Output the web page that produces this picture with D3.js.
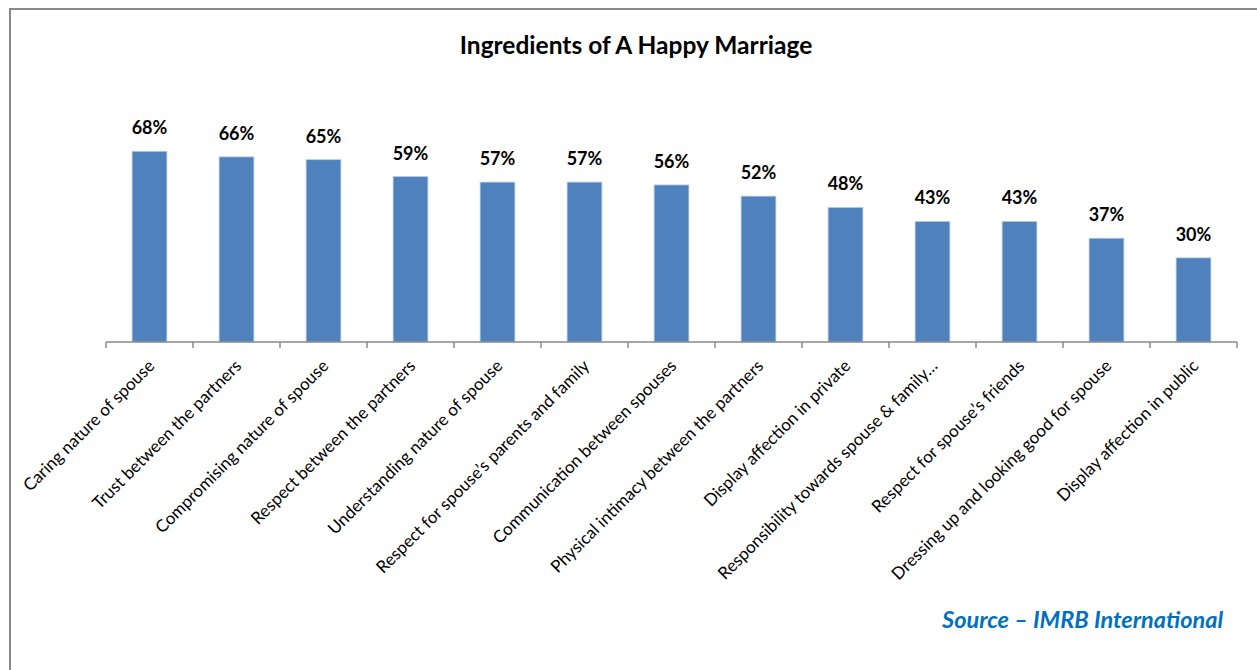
<!DOCTYPE html>
<html>
<head>
<meta charset="utf-8">
<script src="https://cdn.jsdelivr.net/npm/d3@7"></script>
<style>
  html, body { margin: 0; padding: 0; background: #fff; }
  svg { display: block; }
</style>
</head>
<body>
<svg id="chart" width="1257" height="670"></svg>
<script>
// Survey answers: share of respondents naming each ingredient
const categories = [
  "Caring nature of spouse",
  "Trust between the partners",
  "Compromising nature of spouse",
  "Respect between the partners",
  "Understanding nature of spouse",
  "Respect for spouse\u2019s parents and family",
  "Communication between spouses",
  "Physical intimacy between the partners",
  "Display affection in private",
  "Responsibility towards spouse & family\u2026",
  "Respect for spouse\u2019s friends",
  "Dressing up and looking good for spouse",
  "Display affection in public"
];
const values = [68, 66, 65, 59, 57, 57, 56, 52, 48, 43, 43, 37, 30];

const titleText = "Ingredients of A Happy Marriage";
const sourceText = "Source \u2013 IMRB International";

const W = 1257, H = 670;
const svg = d3.select("#chart");
const font = "Lato, 'Open Sans', sans-serif";

// Chart area frame
svg.append("rect")
  .attr("x", 10).attr("y", 9)
  .attr("width", W + 20).attr("height", H + 20)
  .attr("fill", "#fff")
  .attr("stroke", "#8a8a8a")
  .attr("stroke-width", 2);

const plot = { left: 106, right: 1237, baseline: 342, top: 61.5 };

const x = d3.scaleBand()
  .domain(categories)
  .range([plot.left, plot.right])
  .paddingInner(0.6)
  .paddingOuter(0.3);

const y = d3.scaleLinear()
  .domain([0, 100])
  .range([plot.baseline, plot.top]);

// Title
svg.append("text")
  .attr("x", 636).attr("y", 54)
  .attr("text-anchor", "middle")
  .attr("font-family", font)
  .attr("font-weight", "bold")
  .attr("font-size", 24.5)
  .attr("fill", "#000")
  .text(titleText);

// Bars
svg.append("g").selectAll("rect")
  .data(values)
  .join("rect")
  .attr("x", (d, i) => x(categories[i]))
  .attr("width", x.bandwidth())
  .attr("y", d => y(d))
  .attr("height", d => y(0) - y(d))
  .attr("fill", "#4F81BD")
  .attr("stroke", "#bccde3")
  .attr("stroke-width", 0.8);

// Value labels
svg.append("g").selectAll("text")
  .data(values)
  .join("text")
  .attr("x", (d, i) => x(categories[i]) + x.bandwidth() / 2)
  .attr("y", d => y(d) - 17)
  .attr("text-anchor", "middle")
  .attr("font-family", font)
  .attr("font-weight", "bold")
  .attr("font-size", 18)
  .attr("fill", "#000")
  .text(d => d + "%");

// Category axis with ticks on band boundaries
const axis = svg.append("g");
axis.append("line")
  .attr("x1", plot.left).attr("x2", plot.right)
  .attr("y1", plot.baseline).attr("y2", plot.baseline)
  .attr("stroke", "#8a8a8a").attr("stroke-width", 1.5);

const step = x.step();
const boundaries = categories.map(c => x(c) - (step - x.bandwidth()) / 2)
  .concat([plot.right]);
axis.selectAll("line.tick")
  .data(boundaries)
  .join("line")
  .attr("class", "tick")
  .attr("x1", d => d).attr("x2", d => d)
  .attr("y1", plot.baseline).attr("y2", plot.baseline + 6)
  .attr("stroke", "#8a8a8a").attr("stroke-width", 1.5);

axis.selectAll("text")
  .data(categories)
  .join("text")
  .attr("transform", d => `translate(${x(d) + x.bandwidth() / 2 + 6},${plot.baseline + 25}) rotate(-45)`)
  .attr("text-anchor", "end")
  .attr("font-family", font)
  .attr("font-size", 17)
  .attr("fill", "#000")
  .text(d => d);

// Source note
svg.append("text")
  .attr("x", 1223).attr("y", 628)
  .attr("text-anchor", "end")
  .attr("font-family", font)
  .attr("font-weight", "bold")
  .attr("font-style", "italic")
  .attr("font-size", 23.5)
  .attr("fill", "#0070C0")
  .text(sourceText);
</script>
</body>
</html>
